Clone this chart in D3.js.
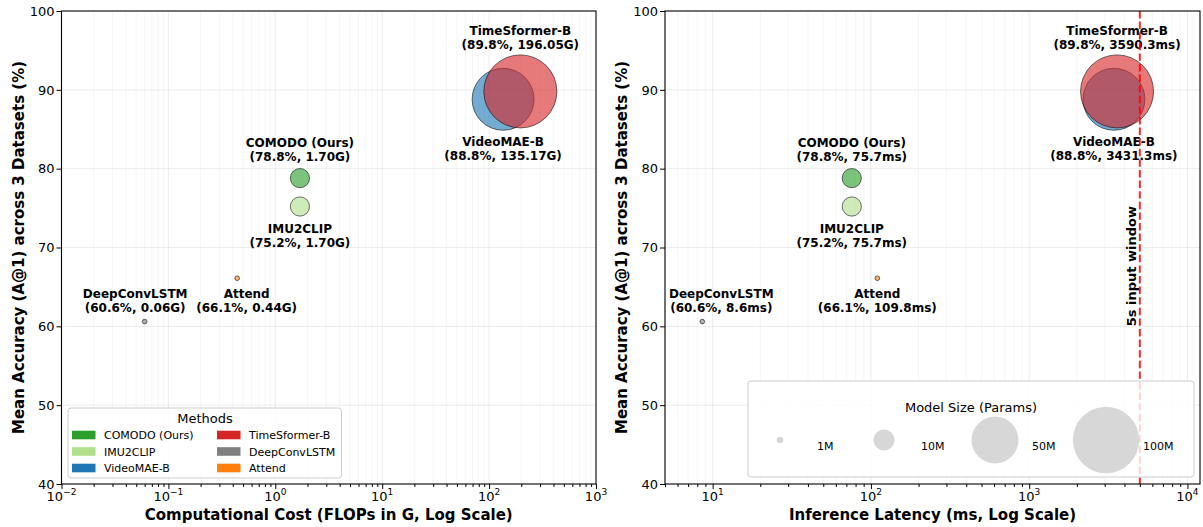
<!DOCTYPE html>
<html><head><meta charset="utf-8">
<script src="https://cdn.jsdelivr.net/npm/d3@7"></script>
<style>
body{margin:0;background:#fff}
svg{display:block}
text{font-family:"DejaVu Sans",sans-serif;fill:#000}
</style>
</head><body>
<svg id="c" width="1203" height="527"></svg>
<script>
// ---------------- data ----------------
const methods   = ["COMODO (Ours)", "IMU2CLIP", "VideoMAE-B", "TimeSformer-B", "DeepConvLSTM", "Attend"];
const accuracy  = [78.8, 75.2, 88.8, 89.8, 60.6, 66.1];          // Mean A@1 (%)
const flopsG    = [1.70, 1.70, 135.17, 196.05, 0.06, 0.44];      // GFLOPs
const latencyMs = [75.7, 75.7, 3431.3, 3590.3, 8.6, 109.8];      // ms
const paramsM   = [8.4, 8.4, 87, 121, 0.5, 0.5];                 // model size (M)
const colors    = ["#2ca02c", "#b2df8a", "#1f77b4", "#d62728", "#7f7f7f", "#ff7f0e"];
const labelSide = ["above", "below", "below", "above", "above", "below"];
const labelDxFlops   = [0, 0, 0, 0, -9.5, 9.5];
const labelDxLatency = [0, 0, 0, 0, 19, 0];
const yTicks = [40, 50, 60, 70, 80, 90, 100];
const flopsTickExp   = [-2, -1, 0, 1, 2, 3];
const latencyTickExp = [1, 2, 3, 4];
const sizeLegendValues = [1, 10, 50, 100];
const sizeLegendLabels = ["1M", "10M", "50M", "100M"];
const inputWindowMs = 5000;

// ---------------- layout ----------------
const svg = d3.select("#c");
const TOP = 11, BOTTOM = 484;
const y = d3.scaleLinear().domain([40, 100]).range([BOTTOM, TOP]);
const rScale = d3.scaleSqrt().domain([0, 100]).range([0, 33.2]);

function minorTicks(domain) {
  const out = [];
  const lo = Math.floor(Math.log10(domain[0])), hi = Math.ceil(Math.log10(domain[1]));
  for (let d = lo; d <= hi; d++) for (let m = 2; m <= 9; m++) {
    const v = m * Math.pow(10, d);
    if (v >= domain[0] && v <= domain[1]) out.push(v);
  }
  return out;
}

function drawPanel(cfg) {
  const x = d3.scaleLog().domain(cfg.domain).range([cfg.x0, cfg.x1]);
  const g = svg.append("g");
  const majors = cfg.tickExp.map(e => Math.pow(10, e));
  const minors = minorTicks(cfg.domain);

  // grid
  const grid = g.append("g");
  grid.selectAll(".gminor").data(minors).join("line")
    .attr("x1", d => x(d)).attr("x2", d => x(d)).attr("y1", TOP).attr("y2", BOTTOM)
    .attr("stroke", "#b0b0b0").attr("stroke-opacity", 0.2).attr("stroke-width", 0.6);
  grid.selectAll(".gmajor").data(majors.filter(v => v > cfg.domain[0] && v < cfg.domain[1])).join("line")
    .attr("x1", d => x(d)).attr("x2", d => x(d)).attr("y1", TOP).attr("y2", BOTTOM)
    .attr("stroke", "#b0b0b0").attr("stroke-opacity", 0.3).attr("stroke-width", 0.8);
  grid.selectAll(".gy").data(yTicks.slice(1, -1)).join("line")
    .attr("x1", cfg.x0).attr("x2", cfg.x1).attr("y1", d => y(d)).attr("y2", d => y(d))
    .attr("stroke", "#b0b0b0").attr("stroke-opacity", 0.3).attr("stroke-width", 0.8);

  // bubbles
  const idx = d3.range(methods.length);
  g.append("g").selectAll("circle").data(idx).join("circle")
    .attr("cx", i => x(cfg.values[i])).attr("cy", i => y(accuracy[i]))
    .attr("r", i => rScale(paramsM[i]))
    .attr("fill", i => colors[i]).attr("fill-opacity", 0.62)
    .attr("stroke", "#000").attr("stroke-opacity", 0.55).attr("stroke-width", 1);

  // labels
  const lh = 13.8;
  idx.forEach(i => {
    const cx = x(cfg.values[i]) + cfg.labelDx[i], cy = y(accuracy[i]);
    const rr = rScale(paramsM[i]);
    let c1, c2;
    if (labelSide[i] === "above") { c2 = cy - (0.95 * rr + 12); c1 = c2 - lh; }
    else { c1 = cy + 0.95 * rr + 13; c2 = c1 + lh; }
    const t = g.append("text").attr("text-anchor", "middle")
      .style("font-size", "12px").style("font-weight", "bold");
    t.append("tspan").attr("x", cx).attr("y", c1 + 4.3).text(methods[i]);
    t.append("tspan").attr("x", cx).attr("y", c2 + 4.3)
      .text(`(${accuracy[i].toFixed(1)}%, ${cfg.fmt(cfg.values[i])})`);
  });

  if (cfg.extra) cfg.extra(g, x);

  // spines
  g.append("rect").attr("x", cfg.x0).attr("y", TOP).attr("width", cfg.x1 - cfg.x0).attr("height", BOTTOM - TOP)
    .attr("fill", "none").attr("stroke", "#000").attr("stroke-width", 1.1);

  // x axis ticks
  const xa = g.append("g").attr("transform", `translate(0,${BOTTOM})`);
  xa.call(d3.axisBottom(x).tickValues(majors).tickSize(5).tickFormat(""));
  const xm = g.append("g").attr("transform", `translate(0,${BOTTOM})`);
  xm.call(d3.axisBottom(x).tickValues(minors).tickSize(3).tickFormat(""));
  [xa, xm].forEach(a => { a.select(".domain").remove(); a.selectAll("line").attr("stroke", "#000").attr("stroke-width", 1); });
  cfg.tickExp.forEach(e => {
    const t = g.append("text").attr("x", x(Math.pow(10, e))).attr("y", 501)
      .attr("text-anchor", "middle").style("font-size", "13px");
    t.append("tspan").text("10");
    t.append("tspan").attr("dy", -6).style("font-size", "9px").text(e < 0 ? "\u2212" + (-e) : String(e));
  });

  // y axis ticks
  const ya = g.append("g").attr("transform", `translate(${cfg.x0},0)`);
  ya.call(d3.axisLeft(y).tickValues(yTicks).tickSize(5).tickPadding(2).tickFormat(d3.format("d")));
  ya.select(".domain").remove();
  ya.selectAll("line").attr("stroke", "#000").attr("stroke-width", 1);
  ya.selectAll("text").style("font-size", "13px").style("font-family", "DejaVu Sans").attr("fill", "#000");

  // axis labels
  g.append("text").attr("x", (cfg.x0 + cfg.x1) / 2).attr("y", 519.5).attr("text-anchor", "middle")
    .style("font-size", "15px").style("font-weight", "bold").text(cfg.xlabel);
  g.append("text").attr("transform", `translate(${cfg.x0 - 38},${(TOP + BOTTOM) / 2}) rotate(-90)`)
    .attr("text-anchor", "middle").style("font-size", "15px").style("font-weight", "bold")
    .text("Mean Accuracy (A@1) across 3 Datasets (%)");
}

function legendBox(g, x, yy, w, h) {
  g.append("rect").attr("x", x).attr("y", yy).attr("width", w).attr("height", h).attr("rx", 3)
    .attr("fill", "#fff").attr("fill-opacity", 0.8).attr("stroke", "#cccccc").attr("stroke-width", 1);
}

// ---------------- left panel ----------------
drawPanel({
  x0: 61.5, x1: 596, domain: [0.01, 1000], values: flopsG, tickExp: flopsTickExp,
  labelDx: labelDxFlops, fmt: v => v.toFixed(2) + "G",
  xlabel: "Computational Cost (FLOPs in G, Log Scale)",
  extra: (g) => {
    legendBox(g, 68, 408, 273.5, 70);
    g.append("text").attr("x", 205).attr("y", 422.7).attr("text-anchor", "middle")
      .style("font-size", "13px").text("Methods");
    methods.forEach((m, i) => {
      const col = Math.floor(i / 3), row = i % 3;
      const px = col === 0 ? 72 : 217, tx = col === 0 ? 104 : 249;
      const cy = 435 + row * 16.5;
      g.append("rect").attr("x", px).attr("y", cy - 4.3).attr("width", 23.5).attr("height", 8.6).attr("fill", colors[i]);
      g.append("text").attr("x", tx).attr("y", cy + 4).style("font-size", "11px").text(m);
    });
  }
});

// ---------------- right panel ----------------
drawPanel({
  x0: 665, x1: 1200, domain: [5, 12000], values: latencyMs, tickExp: latencyTickExp,
  labelDx: labelDxLatency, fmt: v => v.toFixed(1) + "ms",
  xlabel: "Inference Latency (ms, Log Scale)",
  extra: (g, x) => {
    const xl = x(inputWindowMs);
    g.append("line").attr("x1", xl).attr("x2", xl).attr("y1", TOP).attr("y2", BOTTOM)
      .attr("stroke", "red").attr("stroke-opacity", 0.85).attr("stroke-width", 2).attr("stroke-dasharray", "7.4,3.2");
    g.append("text").attr("transform", `translate(${xl - 3.5},${y(60)}) rotate(-90)`)
      .attr("text-anchor", "start").style("font-size", "13px").style("font-weight", "bold")
      .text("5s input window");
    legendBox(g, 748, 381, 446, 96);
    g.append("text").attr("x", 971).attr("y", 411.5).attr("text-anchor", "middle")
      .style("font-size", "13px").text("Model Size (Params)");
    let cx = 780;
    sizeLegendValues.forEach((v, i) => {
      g.append("circle").attr("cx", cx).attr("cy", 440).attr("r", rScale(v)).attr("fill", "#d3d3d3").attr("fill-opacity", 0.9);
      const t = g.append("text").attr("x", cx + 37).attr("y", 450).style("font-size", "11px").text(sizeLegendLabels[i]);
      cx = cx + 37 + t.node().getComputedTextLength() + 50.5;
    });
  }
});
</script>
</body></html>
